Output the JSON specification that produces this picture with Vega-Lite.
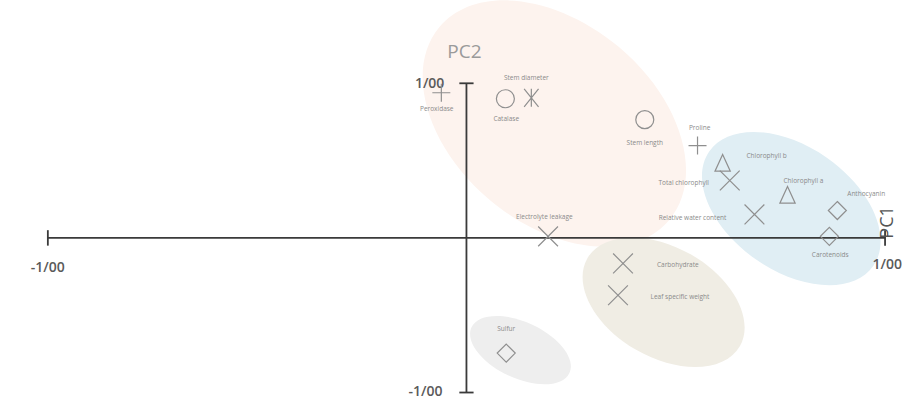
{
  "$schema": "https://vega.github.io/schema/vega-lite/v6.json",
  "width": 902,
  "height": 400,
  "autosize": {"type": "fit", "contains": "padding"},
  "padding": 0,
  "background": "white",
  "config": {"view": {"stroke": null}},
  "datasets": {
    "groups": [
      {"group": "Group 1", "x": 0.21, "y": 0.74},
      {"group": "Group 2", "x": 0.776, "y": 0.19},
      {"group": "Group 3", "x": 0.471, "y": -0.416},
      {"group": "Group 4", "x": 0.129, "y": -0.726}
    ],
    "axes": [
      {"part": "PC1 axis", "x": -1, "x2": 1, "y": 0, "y2": 0},
      {"part": "PC2 axis", "x": 0, "x2": 0, "y": -1, "y2": 1},
      {"part": "tick x -1", "x": -1, "x2": -1, "y": -0.05, "y2": 0.05},
      {"part": "tick x 1", "x": 1, "x2": 1, "y": -0.05, "y2": 0.05},
      {"part": "tick y 1", "x": -0.017, "x2": 0.017, "y": 1, "y2": 1},
      {"part": "tick y -1", "x": -0.017, "x2": 0.017, "y": -1, "y2": -1}
    ],
    "ticklabels": [
      {"text": "1/00", "x": -0.088, "y": 0.996},
      {"text": "-1/00", "x": -0.098, "y": -0.997},
      {"text": "-1/00", "x": -1.0, "y": -0.197},
      {"text": "1/00", "x": 1.005, "y": -0.177}
    ],
    "titles": [
      {"text": "PC2", "x": -0.005, "y": 1.203, "rot": "none"},
      {"text": "PC1", "x": 1.008, "y": 0.1, "rot": "vertical"}
    ],
    "vars": [
      {"name": "Peroxidase", "sym": "plus", "x": -0.06, "y": 0.939, "lx": -0.071, "ly": 0.835},
      {"name": "Stem diameter", "sym": "circle", "x": 0.093, "y": 0.9, "lx": 0.143, "ly": 1.035},
      {"name": "Catalase", "sym": "asterisk", "x": 0.155, "y": 0.906, "lx": 0.095, "ly": 0.771},
      {"name": "Stem length", "sym": "circle", "x": 0.426, "y": 0.765, "lx": 0.426, "ly": 0.616},
      {"name": "Proline", "sym": "plus", "x": 0.552, "y": 0.597, "lx": 0.557, "ly": 0.713},
      {"name": "Chlorophyll b", "sym": "triangle", "x": 0.612, "y": 0.481, "lx": 0.717, "ly": 0.532},
      {"name": "Total chlorophyll", "sym": "x", "x": 0.629, "y": 0.371, "lx": 0.519, "ly": 0.352},
      {"name": "Chlorophyll a", "sym": "triangle", "x": 0.767, "y": 0.274, "lx": 0.805, "ly": 0.371},
      {"name": "Anthocyanin", "sym": "diamond", "x": 0.886, "y": 0.177, "lx": 0.955, "ly": 0.281},
      {"name": "Relative water content", "sym": "x", "x": 0.688, "y": 0.152, "lx": 0.54, "ly": 0.126},
      {"name": "Carotenoids", "sym": "diamond", "x": 0.867, "y": 0.01, "lx": 0.869, "ly": -0.113},
      {"name": "Electrolyte leakage", "sym": "x", "x": 0.195, "y": 0.01, "lx": 0.186, "ly": 0.132},
      {"name": "Carbohydrate", "sym": "x", "x": 0.374, "y": -0.165, "lx": 0.505, "ly": -0.177},
      {"name": "Leaf specific weight", "sym": "x", "x": 0.362, "y": -0.371, "lx": 0.51, "ly": -0.384},
      {"name": "Sulfur", "sym": "diamond", "x": 0.095, "y": -0.745, "lx": 0.095, "ly": -0.59}
    ]
  },
  "layer": [
    {
      "data": {"name": "groups"},
      "transform": [{"filter": "datum.group == 'Group 1'"}],
      "mark": {"type": "point", "filled": true, "shape": "M -1 0 A 1 0.667 0 1 0 1 0 A 1 0.667 0 1 0 -1 0 Z", "size": 90000, "angle": 40, "fill": "#fdf3ee", "opacity": 1, "strokeWidth": 0},
      "encoding": {
        "x": {"field": "x", "type": "quantitative", "scale": {"domain": [-1.1143, 1.0333], "nice": false, "zero": false}, "axis": null},
        "y": {"field": "y", "type": "quantitative", "scale": {"domain": [-1.0484, 1.5323], "nice": false, "zero": false}, "axis": null}
      }
    },
    {
      "data": {"name": "groups"},
      "transform": [{"filter": "datum.group == 'Group 2'"}],
      "mark": {"type": "point", "filled": true, "shape": "M -1 0 A 1 0.62 0 1 0 1 0 A 1 0.62 0 1 0 -1 0 Z", "size": 40000, "angle": 35, "fill": "#e0eef4", "opacity": 1, "strokeWidth": 0},
      "encoding": {
        "x": {"field": "x", "type": "quantitative", "scale": {"domain": [-1.1143, 1.0333], "nice": false, "zero": false}, "axis": null},
        "y": {"field": "y", "type": "quantitative", "scale": {"domain": [-1.0484, 1.5323], "nice": false, "zero": false}, "axis": null}
      }
    },
    {
      "data": {"name": "groups"},
      "transform": [{"filter": "datum.group == 'Group 3'"}],
      "mark": {"type": "point", "filled": true, "shape": "M -1 0 A 1 0.625 0 1 0 1 0 A 1 0.625 0 1 0 -1 0 Z", "size": 30976, "angle": 30, "fill": "#f0ede4", "opacity": 1, "strokeWidth": 0},
      "encoding": {
        "x": {"field": "x", "type": "quantitative", "scale": {"domain": [-1.1143, 1.0333], "nice": false, "zero": false}, "axis": null},
        "y": {"field": "y", "type": "quantitative", "scale": {"domain": [-1.0484, 1.5323], "nice": false, "zero": false}, "axis": null}
      }
    },
    {
      "data": {"name": "groups"},
      "transform": [{"filter": "datum.group == 'Group 4'"}],
      "mark": {"type": "point", "filled": true, "shape": "M -1 0 A 1 0.52 0 1 0 1 0 A 1 0.52 0 1 0 -1 0 Z", "size": 11664, "angle": 25, "fill": "#eeeeee", "opacity": 1, "strokeWidth": 0},
      "encoding": {
        "x": {"field": "x", "type": "quantitative", "scale": {"domain": [-1.1143, 1.0333], "nice": false, "zero": false}, "axis": null},
        "y": {"field": "y", "type": "quantitative", "scale": {"domain": [-1.0484, 1.5323], "nice": false, "zero": false}, "axis": null}
      }
    },
    {
      "data": {"name": "axes"},
      "mark": {"type": "rule", "color": "#3a3a3a", "strokeWidth": 1.8},
      "encoding": {
        "x": {"field": "x", "type": "quantitative", "scale": {"domain": [-1.1143, 1.0333], "nice": false, "zero": false}, "axis": null},
        "x2": {"field": "x2"},
        "y": {"field": "y", "type": "quantitative", "scale": {"domain": [-1.0484, 1.5323], "nice": false, "zero": false}, "axis": null},
        "y2": {"field": "y2"}
      }
    },
    {
      "data": {"name": "ticklabels"},
      "mark": {"type": "text", "font": "Open Sans", "fontSize": 14, "fontWeight": 600, "color": "#5a5a5a", "align": "center", "baseline": "middle"},
      "encoding": {
        "x": {"field": "x", "type": "quantitative", "scale": {"domain": [-1.1143, 1.0333], "nice": false, "zero": false}, "axis": null},
        "y": {"field": "y", "type": "quantitative", "scale": {"domain": [-1.0484, 1.5323], "nice": false, "zero": false}, "axis": null},
        "text": {"field": "text"}
      }
    },
    {
      "data": {"name": "titles"},
      "transform": [{"filter": "datum.rot == 'none'"}],
      "mark": {"type": "text", "font": "Open Sans", "fontSize": 19, "color": "#9a9a9a", "align": "center", "baseline": "middle"},
      "encoding": {
        "x": {"field": "x", "type": "quantitative", "scale": {"domain": [-1.1143, 1.0333], "nice": false, "zero": false}, "axis": null},
        "y": {"field": "y", "type": "quantitative", "scale": {"domain": [-1.0484, 1.5323], "nice": false, "zero": false}, "axis": null},
        "text": {"field": "text"}
      }
    },
    {
      "data": {"name": "titles"},
      "transform": [{"filter": "datum.rot == 'vertical'"}],
      "mark": {"type": "text", "font": "Open Sans", "fontSize": 18, "color": "#555555", "align": "center", "baseline": "middle", "angle": 270},
      "encoding": {
        "x": {"field": "x", "type": "quantitative", "scale": {"domain": [-1.1143, 1.0333], "nice": false, "zero": false}, "axis": null},
        "y": {"field": "y", "type": "quantitative", "scale": {"domain": [-1.0484, 1.5323], "nice": false, "zero": false}, "axis": null},
        "text": {"field": "text"}
      }
    },
    {
      "data": {"name": "vars"},
      "mark": {"type": "point", "filled": false, "size": 324, "strokeWidth": 1.2, "color": "#8f8f8f", "opacity": 1},
      "encoding": {
        "x": {"field": "x", "type": "quantitative", "scale": {"domain": [-1.1143, 1.0333], "nice": false, "zero": false}, "axis": null},
        "y": {"field": "y", "type": "quantitative", "scale": {"domain": [-1.0484, 1.5323], "nice": false, "zero": false}, "axis": null},
        "shape": {
          "field": "sym",
          "type": "nominal",
          "legend": null,
          "scale": {
            "domain": ["circle", "plus", "x", "asterisk", "triangle", "diamond"],
            "range": [
              "M -1 0 A 1 1 0 1 0 1 0 A 1 1 0 1 0 -1 0 Z",
              "M -1 0 L 1 0 M 0 -1 L 0 1",
              "M -1.1 -1.1 L 1.1 1.1 M -1.1 1.1 L 1.1 -1.1",
              "M -0.8 -1 L 0.8 1 M -0.8 1 L 0.8 -1 M 0 -1 L 0 1",
              "M 0 -1 L 0.85 0.85 L -0.85 0.85 Z",
              "M 0 -1 L 1 0 L 0 1 L -1 0 Z"
            ]
          }
        }
      }
    },
    {
      "data": {"name": "vars"},
      "mark": {"type": "text", "font": "Open Sans", "fontSize": 6.5, "color": "#8a8a8a", "align": "center", "baseline": "middle"},
      "encoding": {
        "x": {"field": "lx", "type": "quantitative", "scale": {"domain": [-1.1143, 1.0333], "nice": false, "zero": false}, "axis": null},
        "y": {"field": "ly", "type": "quantitative", "scale": {"domain": [-1.0484, 1.5323], "nice": false, "zero": false}, "axis": null},
        "text": {"field": "name"}
      }
    }
  ]
}
